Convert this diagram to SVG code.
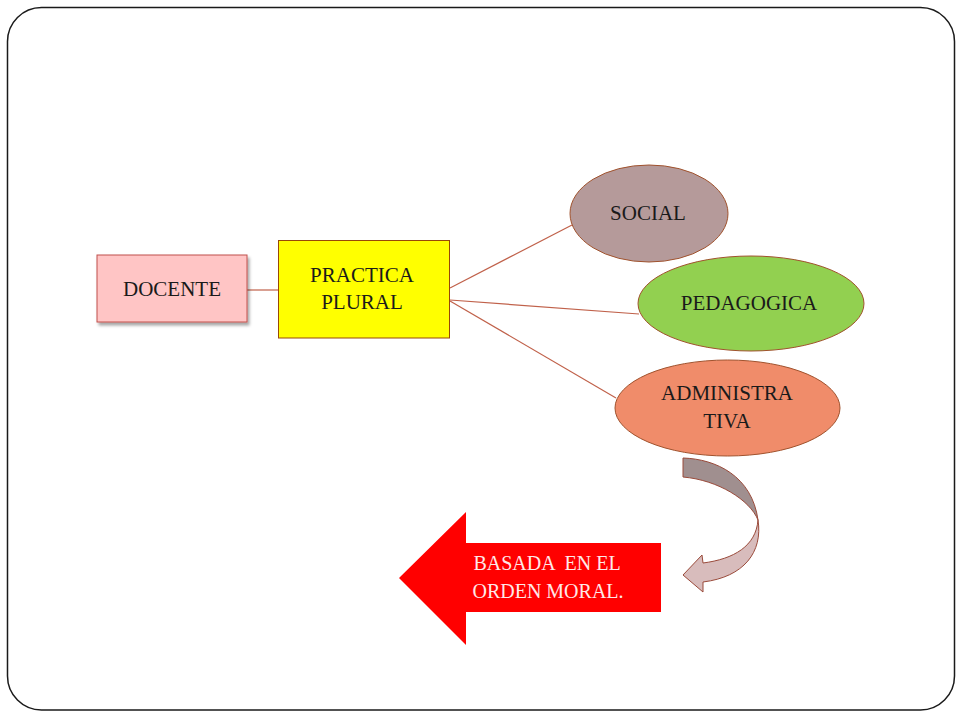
<svg xmlns="http://www.w3.org/2000/svg" width="960" height="720" viewBox="0 0 960 720">
<defs>
<style>
.t{font-family:"Liberation Serif","DejaVu Serif",serif;font-size:21px;fill:#1a1a1a;text-anchor:middle}
.w{fill:#ffe8e8;font-size:20px}
.edge{stroke:#c0614a;stroke-width:1.2;fill:none}
.ell{stroke:#a0522d;stroke-width:1}
</style>
<filter id="sh" x="-10%" y="-10%" width="130%" height="140%">
<feDropShadow dx="2" dy="3" stdDeviation="1.5" flood-color="#000" flood-opacity="0.35"/>
</filter>
</defs>
<rect width="960" height="720" fill="#fff"/>
<rect x="7.5" y="7.5" width="947" height="702.5" rx="34" fill="#fff" stroke="#1a1a1a" stroke-width="1.5"/>
<g id="connectors">
<line class="edge" x1="247" y1="290" x2="278" y2="290"/>
<line class="edge" x1="450" y1="288" x2="572" y2="225"/>
<line class="edge" x1="450" y1="300" x2="639" y2="314"/>
<line class="edge" x1="450" y1="301" x2="616" y2="398"/>
</g>
<g id="docente">
<rect x="97" y="255" width="150" height="67" fill="#ffc5c5" stroke="#c0504d" stroke-width="1" filter="url(#sh)"/>
<text class="t" x="172" y="296">DOCENTE</text>
</g>
<g id="practica">
<rect x="278.5" y="240.5" width="171" height="97.5" fill="#ffff00" stroke="#984807" stroke-width="1"/>
<text class="t" x="362" y="282">PRACTICA</text>
<text class="t" x="362" y="309">PLURAL</text>
</g>
<g id="social">
<ellipse class="ell" cx="649" cy="213.5" rx="79" ry="48.5" fill="#b59a9a"/>
<text class="t" x="648" y="220">SOCIAL</text>
</g>
<g id="pedagogica">
<ellipse class="ell" cx="751" cy="303.5" rx="113" ry="47.5" fill="#92d050"/>
<text class="t" x="749" y="310">PEDAGOGICA</text>
</g>
<g id="administrativa">
<ellipse class="ell" cx="727.5" cy="408" rx="112.5" ry="48" fill="#f08c6a"/>
<text class="t" x="727" y="400">ADMINISTRA</text>
<text class="t" x="727" y="428">TIVA</text>
</g>
<g id="curved-arrow" stroke="#9a4a3a" stroke-width="1" stroke-linejoin="round">
<path d="M683,458 C716,459 752,476 758,520 C750,500 718,480 683,477 Z" fill="#a08f8f"/>
<path d="M758,520 C763,552 744,577 703,582 L703,592 L683,575 L702,555 L703,563 C734,559 756,546 758,520 Z" fill="#d8bcbc"/>
</g>
<g id="basada">
<polygon points="399,578 466,512 466,543 661,543 661,612 466,612 466,645" fill="#ff0000"/>
<text class="t w" x="547" y="570" xml:space="preserve">BASADA  EN EL</text>
<text class="t w" x="548" y="598">ORDEN MORAL.</text>
</g>
</svg>
